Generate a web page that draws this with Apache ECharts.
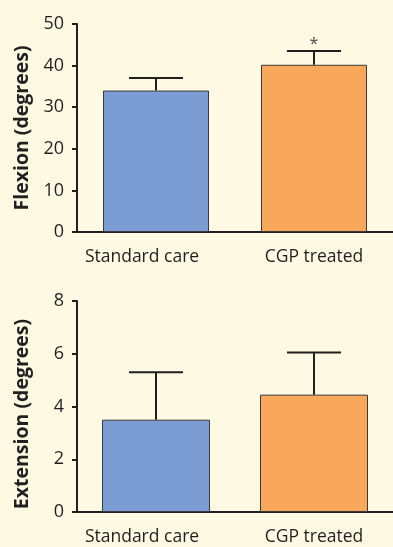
<!DOCTYPE html>
<html>
<head>
<meta charset="utf-8">
<script src="https://cdn.jsdelivr.net/npm/echarts@6/dist/echarts.min.js"></script>
<style>
  html, body { margin: 0; padding: 0; background: #fdf9e2; }
  #chart { width: 393px; height: 547px; }
</style>
</head>
<body>
<div id="chart"></div>
<script>
// Group names
const categories = ['Standard care', 'CGP treated'];

// Flexion: mean and error (degrees)
const flexionMean = [34, 40.2];
const flexionErr = [3.0, 3.3];
const flexionMarks = ['', '*'];
const flexionTicks = { min: 0, max: 50, interval: 10 };

// Extension: mean and error (degrees)
const extensionMean = [3.5, 4.45];
const extensionErr = [1.8, 1.6];
const extensionTicks = { min: 0, max: 8, interval: 2 };

const barColors = ['#7b9dd3', '#f8a75b'];
const ink = '#231f20';
const font = '"Open Sans", Lato, sans-serif';
// the first group label sits a little left of its tick
const labelPadRight = [28, 0];

function barSeries(idx, values, width) {
  return {
    type: 'bar',
    xAxisIndex: idx,
    yAxisIndex: idx,
    barWidth: width,
    data: values.map((v, i) => ({
      value: v,
      itemStyle: { color: barColors[i], borderColor: '#3a3a3a', borderWidth: 1 }
    })),
    z: 2
  };
}

function errorSeries(idx, values, errs, marks) {
  return {
    type: 'custom',
    xAxisIndex: idx,
    yAxisIndex: idx,
    z: 3,
    data: values.map((v, i) => [i, v, v + errs[i]]),
    renderItem: function (params, api) {
      const i = api.value(0);
      const base = api.coord([i, api.value(1)]);
      const top = api.coord([i, api.value(2)]);
      const half = 27;
      const style = { stroke: ink, lineWidth: 2 };
      const children = [
        { type: 'line', shape: { x1: base[0], y1: base[1], x2: top[0], y2: top[1] }, style: style },
        { type: 'line', shape: { x1: top[0] - half, y1: top[1], x2: top[0] + half, y2: top[1] }, style: style }
      ];
      const mark = marks ? marks[i] : '';
      if (mark) {
        children.push({
          type: 'text',
          style: {
            text: mark, x: top[0], y: top[1] - 7,
            align: 'center', verticalAlign: 'middle',
            fill: '#4a4a4a', font: '16px ' + font
          }
        });
      }
      return { type: 'group', children: children };
    }
  };
}

function xAxis(idx) {
  return {
    type: 'category',
    gridIndex: idx,
    data: categories.map((c, i) => ({
      value: c,
      textStyle: { padding: [0, labelPadRight[i], 0, 0] }
    })),
    axisLine: { lineStyle: { color: ink, width: 2 } },
    axisTick: { alignWithLabel: true, length: 6, lineStyle: { color: ink, width: 2 } },
    axisLabel: { color: ink, fontSize: 17.5, fontFamily: font, margin: 16 }
  };
}

function yAxis(idx, ticks, name, shift) {
  return {
    type: 'value',
    gridIndex: idx,
    min: ticks.min, max: ticks.max, interval: ticks.interval,
    name: name,
    nameLocation: 'middle',
    nameGap: 45,
    nameTextStyle: {
      color: ink, fontSize: 19.5, fontWeight: 'bold', fontFamily: font,
      padding: [0, shift, 0, 0]
    },
    axisLine: { show: true, lineStyle: { color: ink, width: 2 } },
    axisTick: { show: true, length: 5, lineStyle: { color: ink, width: 2 } },
    axisLabel: { color: ink, fontSize: 18, fontFamily: font, margin: 13 },
    splitLine: { show: false }
  };
}

const chart = echarts.init(document.getElementById('chart'));
chart.setOption({
  backgroundColor: '#fdf9e2',
  animation: false,
  grid: [
    { left: 77, top: 24, width: 316, height: 208 },
    { left: 77, top: 301, width: 320, height: 211 }
  ],
  xAxis: [xAxis(0), xAxis(1)],
  yAxis: [
    yAxis(0, flexionTicks, 'Flexion (degrees)', 0),
    yAxis(1, extensionTicks, 'Extension (degrees)', 15)
  ],
  series: [
    barSeries(0, flexionMean, 106),
    errorSeries(0, flexionMean, flexionErr, flexionMarks),
    barSeries(1, extensionMean, 108),
    errorSeries(1, extensionMean, extensionErr, null)
  ]
});
</script>
</body>
</html>
